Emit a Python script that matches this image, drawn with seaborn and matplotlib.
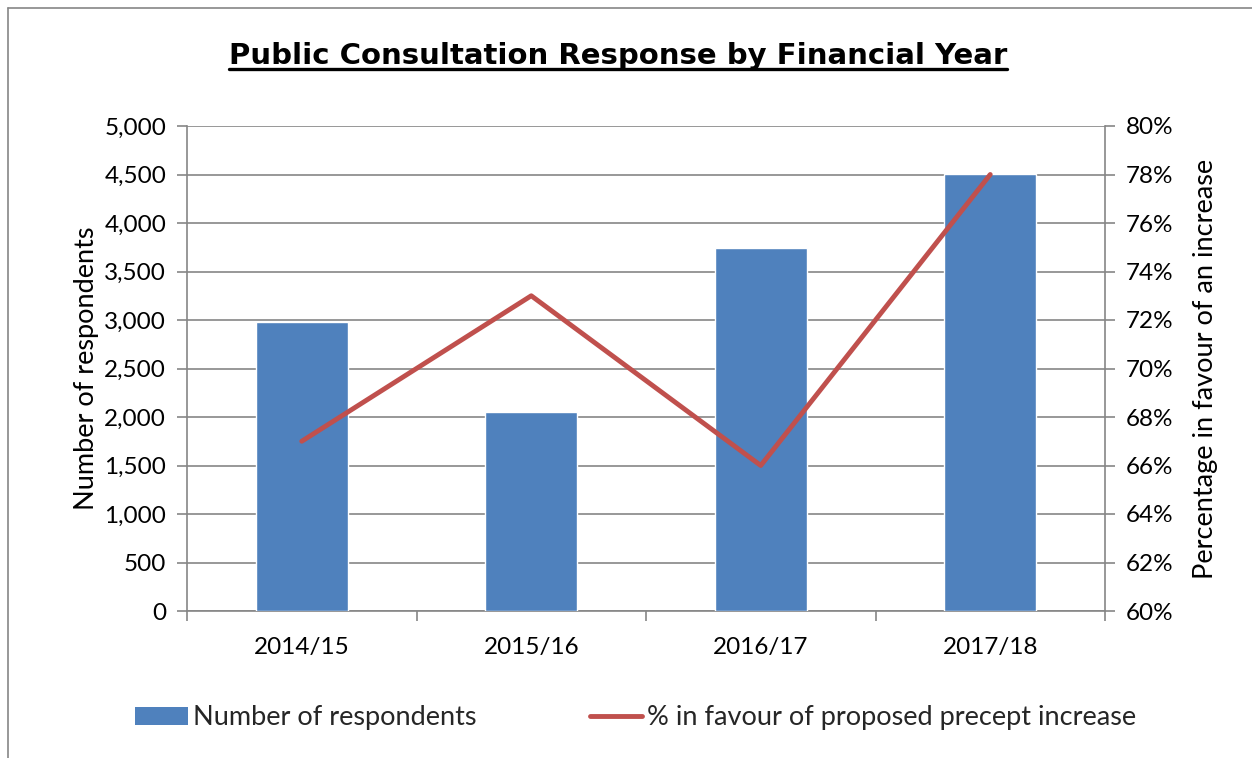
import numpy as np
import pandas as pd
import matplotlib
matplotlib.use("Agg")
import matplotlib.pyplot as plt
import matplotlib.ticker as mticker
from matplotlib.lines import Line2D
from matplotlib.patches import Patch
import seaborn as sns

# ── data ────────────────────────────────────────────────────────
YEARS       = ["2014/15", "2015/16", "2016/17", "2017/18"]
RESPONDENTS = [2980, 2055, 3740, 4505]
PCT_FAVOUR  = [67, 73, 66, 78]

BAR_COLOR  = "#4F81BD"
LINE_COLOR = "#C0504D"
GRID_COLOR = "#868686"
TICK_SIZE  = 17.5
LABEL_SIZE = 19.5

sns.set_theme(style="white")
plt.rcParams["font.family"] = ["Lato", "DejaVu Sans"]

df = pd.DataFrame({"year": YEARS, "resp": RESPONDENTS, "pct": PCT_FAVOUR})

fig = plt.figure(figsize=(12.52, 7.58), dpi=100)
ax = fig.add_axes([187/1252, 1 - 611/758, 918/1252, 485/758])

sns.barplot(data=df, x="year", y="resp", color=BAR_COLOR, width=0.4,
            saturation=1, ax=ax, zorder=3)
ax.set_xlim(-0.5, 3.5)
ax.set_ylim(0, 5000)
ax.yaxis.set_major_locator(mticker.MultipleLocator(500))
ax.yaxis.set_major_formatter(mticker.StrMethodFormatter("{x:,.0f}"))
ax.grid(axis="y", color=GRID_COLOR, linewidth=1.2, zorder=0)
ax.set_axisbelow(True)

# x ticks: labels at centres, tick marks at category boundaries
ax.set_xticks(range(len(YEARS)))
ax.set_xticklabels(YEARS)
ax.set_xticks(np.arange(-0.5, len(YEARS), 1.0), minor=True)
ax.tick_params(axis="x", which="major", length=0, pad=19,
               labelsize=TICK_SIZE, labelcolor="black")
ax.tick_params(axis="x", which="minor", length=7, width=1.2,
               color=GRID_COLOR, direction="out", bottom=True)
ax.tick_params(axis="y", length=7, width=1.2, color=GRID_COLOR,
               direction="out", left=True, pad=8,
               labelsize=TICK_SIZE, labelcolor="black")
ax.set_xlabel("")
ax.set_ylabel("Number of respondents", fontsize=LABEL_SIZE, color="black")
ax.yaxis.set_label_coords(-0.096, 0.5)

for side in ["top", "right"]:
    ax.spines[side].set_visible(False)
for side in ["left", "bottom"]:
    ax.spines[side].set_color(GRID_COLOR)
    ax.spines[side].set_linewidth(1.2)

# secondary axis: percentage in favour
ax2 = ax.twinx()
sns.lineplot(data=df, x="year", y="pct", color=LINE_COLOR, linewidth=3.5,
             sort=False, ax=ax2, solid_capstyle="round", zorder=5)
ax2.set_xlim(-0.5, 3.5)
ax2.set_ylim(60, 80)
ax2.yaxis.set_major_locator(mticker.MultipleLocator(2))
ax2.yaxis.set_major_formatter(mticker.StrMethodFormatter("{x:.0f}%"))
ax2.tick_params(axis="y", length=7, width=1.2, color=GRID_COLOR,
                direction="out", right=True, pad=8,
                labelsize=TICK_SIZE, labelcolor="black")
ax2.set_xlabel("")
ax2.set_ylabel("Percentage in favour of an increase", fontsize=LABEL_SIZE,
               color="black")
ax2.yaxis.set_label_coords(1.096, 0.5)
for side in ["top", "left", "bottom"]:
    ax2.spines[side].set_visible(False)
ax2.spines["right"].set_color(GRID_COLOR)
ax2.spines["right"].set_linewidth(1.2)

# title with underline
title = fig.text(618/1252, 1 - 64/758,
                 "Public Consultation Response by Financial Year",
                 ha="center", va="baseline", fontsize=21, fontweight="bold",
                 family="DejaVu Sans", color="black")
fig.canvas.draw()
bb = title.get_window_extent().transformed(fig.transFigure.inverted())
uy = 1 - 68.5/758
fig.add_artist(Line2D([bb.x0, bb.x1], [uy, uy], color="black",
                      linewidth=2.4, transform=fig.transFigure))

# chart border (left and top edges visible)
fig.add_artist(Line2D([8/1252, 8/1252], [0, 1 - 8/758], color=GRID_COLOR,
                      linewidth=1.2, transform=fig.transFigure))
fig.add_artist(Line2D([8/1252, 1], [1 - 8/758, 1 - 8/758], color=GRID_COLOR,
                      linewidth=1.2, transform=fig.transFigure))

# legend
handles = [Patch(facecolor=BAR_COLOR, edgecolor="none"),
           Line2D([], [], color=LINE_COLOR, linewidth=3.5)]
labels = ["Number of respondents", "% in favour of proposed precept increase"]
fig.legend(handles, labels, loc="center", ncol=2,
           bbox_to_anchor=(636/1252, 1 - 718/758), frameon=False,
           fontsize=LABEL_SIZE, handlelength=1.93, handleheight=0.63,
           handletextpad=0.19, columnspacing=4.2)

fig.savefig("out.png", dpi=100)
